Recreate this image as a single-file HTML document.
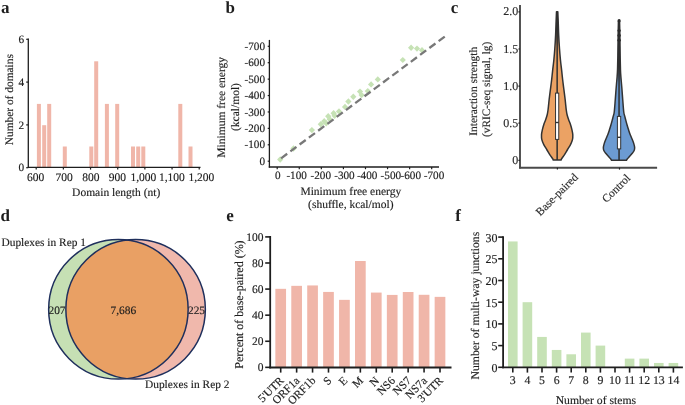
<!DOCTYPE html>
<html><head><meta charset="utf-8"><style>
html,body{margin:0;padding:0;background:#fff;}
svg{display:block;will-change:transform;text-rendering:geometricPrecision;font-family:"Liberation Serif",serif;}
</style></head><body>
<svg width="685" height="405" viewBox="0 0 685 405" style='font-family:"Liberation Serif",serif'>
<rect width="685" height="405" fill="#fff"/>
<text x="0.90" y="12.80" font-size="17" text-anchor="start" fill="#1e1e1e" font-weight="bold">a</text>
<rect x="36.90" y="103.90" width="4.00" height="63.90" fill="#F0B6A9"/>
<rect x="42.20" y="125.20" width="4.00" height="42.60" fill="#F0B6A9"/>
<rect x="47.20" y="103.90" width="4.00" height="63.90" fill="#F0B6A9"/>
<rect x="62.80" y="146.50" width="4.00" height="21.30" fill="#F0B6A9"/>
<rect x="89.30" y="146.50" width="4.00" height="21.30" fill="#F0B6A9"/>
<rect x="94.20" y="61.30" width="4.00" height="106.50" fill="#F0B6A9"/>
<rect x="104.90" y="103.90" width="4.00" height="63.90" fill="#F0B6A9"/>
<rect x="115.20" y="103.90" width="4.00" height="63.90" fill="#F0B6A9"/>
<rect x="131.00" y="146.50" width="4.00" height="21.30" fill="#F0B6A9"/>
<rect x="136.20" y="146.50" width="4.00" height="21.30" fill="#F0B6A9"/>
<rect x="141.30" y="146.50" width="4.00" height="21.30" fill="#F0B6A9"/>
<rect x="178.30" y="103.90" width="4.00" height="63.90" fill="#F0B6A9"/>
<rect x="188.50" y="146.50" width="4.00" height="21.30" fill="#F0B6A9"/>
<line x1="28.30" y1="38.60" x2="28.30" y2="167.90" stroke="#1e1e1e" stroke-width="1.3"/>
<line x1="27.70" y1="167.30" x2="200.50" y2="167.30" stroke="#1e1e1e" stroke-width="1.3"/>
<line x1="26.20" y1="167.70" x2="28.30" y2="167.70" stroke="#1e1e1e" stroke-width="1.2"/>
<text x="24.20" y="171.30" font-size="11.3" text-anchor="end" fill="#1e1e1e" stroke="#1e1e1e" stroke-width="0.15">0</text>
<line x1="26.20" y1="124.90" x2="28.30" y2="124.90" stroke="#1e1e1e" stroke-width="1.2"/>
<text x="24.20" y="128.50" font-size="11.3" text-anchor="end" fill="#1e1e1e" stroke="#1e1e1e" stroke-width="0.15">2</text>
<line x1="26.20" y1="82.10" x2="28.30" y2="82.10" stroke="#1e1e1e" stroke-width="1.2"/>
<text x="24.20" y="85.70" font-size="11.3" text-anchor="end" fill="#1e1e1e" stroke="#1e1e1e" stroke-width="0.15">4</text>
<line x1="26.20" y1="39.30" x2="28.30" y2="39.30" stroke="#1e1e1e" stroke-width="1.2"/>
<text x="24.20" y="42.90" font-size="11.3" text-anchor="end" fill="#1e1e1e" stroke="#1e1e1e" stroke-width="0.15">6</text>
<line x1="36.20" y1="167.30" x2="36.20" y2="169.60" stroke="#1e1e1e" stroke-width="1.2"/>
<text x="35.55" y="181.00" font-size="11.5" text-anchor="middle" fill="#1e1e1e" stroke="#1e1e1e" stroke-width="0.15">600</text>
<line x1="63.37" y1="167.30" x2="63.37" y2="169.60" stroke="#1e1e1e" stroke-width="1.2"/>
<text x="64.20" y="181.00" font-size="11.5" text-anchor="middle" fill="#1e1e1e" stroke="#1e1e1e" stroke-width="0.15">700</text>
<line x1="90.54" y1="167.30" x2="90.54" y2="169.60" stroke="#1e1e1e" stroke-width="1.2"/>
<text x="90.90" y="181.00" font-size="11.5" text-anchor="middle" fill="#1e1e1e" stroke="#1e1e1e" stroke-width="0.15">800</text>
<line x1="117.71" y1="167.30" x2="117.71" y2="169.60" stroke="#1e1e1e" stroke-width="1.2"/>
<text x="117.25" y="181.00" font-size="11.5" text-anchor="middle" fill="#1e1e1e" stroke="#1e1e1e" stroke-width="0.15">900</text>
<line x1="144.88" y1="167.30" x2="144.88" y2="169.60" stroke="#1e1e1e" stroke-width="1.2"/>
<text x="143.35" y="181.00" font-size="11.5" text-anchor="middle" fill="#1e1e1e" stroke="#1e1e1e" stroke-width="0.15">1,000</text>
<line x1="172.05" y1="167.30" x2="172.05" y2="169.60" stroke="#1e1e1e" stroke-width="1.2"/>
<text x="171.90" y="181.00" font-size="11.5" text-anchor="middle" fill="#1e1e1e" stroke="#1e1e1e" stroke-width="0.15">1,100</text>
<line x1="199.22" y1="167.30" x2="199.22" y2="169.60" stroke="#1e1e1e" stroke-width="1.2"/>
<text x="201.35" y="181.00" font-size="11.5" text-anchor="middle" fill="#1e1e1e" stroke="#1e1e1e" stroke-width="0.15">1,200</text>
<text x="116.20" y="196.20" font-size="11.5" text-anchor="middle" fill="#1e1e1e" stroke="#1e1e1e" stroke-width="0.15">Domain length (nt)</text>
<text x="12.60" y="99.70" font-size="11.4" text-anchor="middle" fill="#1e1e1e" stroke="#1e1e1e" stroke-width="0.15" transform="rotate(-90 12.6 99.7)">Number of domains</text>
<text x="225.60" y="12.70" font-size="17" text-anchor="start" fill="#1e1e1e" font-weight="bold">b</text>
<line x1="269.40" y1="39.90" x2="269.40" y2="167.60" stroke="#1e1e1e" stroke-width="1.3"/>
<line x1="268.80" y1="167.00" x2="439.00" y2="167.00" stroke="#1e1e1e" stroke-width="1.3"/>
<line x1="267.70" y1="161.20" x2="269.40" y2="161.20" stroke="#1e1e1e" stroke-width="1.2"/>
<text x="265.00" y="164.90" font-size="11.2" text-anchor="end" fill="#1e1e1e" stroke="#1e1e1e" stroke-width="0.15">0</text>
<line x1="267.70" y1="144.79" x2="269.40" y2="144.79" stroke="#1e1e1e" stroke-width="1.2"/>
<text x="265.00" y="148.49" font-size="11.2" text-anchor="end" fill="#1e1e1e" stroke="#1e1e1e" stroke-width="0.15">-100</text>
<line x1="267.70" y1="128.37" x2="269.40" y2="128.37" stroke="#1e1e1e" stroke-width="1.2"/>
<text x="265.00" y="132.07" font-size="11.2" text-anchor="end" fill="#1e1e1e" stroke="#1e1e1e" stroke-width="0.15">-200</text>
<line x1="267.70" y1="111.96" x2="269.40" y2="111.96" stroke="#1e1e1e" stroke-width="1.2"/>
<text x="265.00" y="115.66" font-size="11.2" text-anchor="end" fill="#1e1e1e" stroke="#1e1e1e" stroke-width="0.15">-300</text>
<line x1="267.70" y1="95.54" x2="269.40" y2="95.54" stroke="#1e1e1e" stroke-width="1.2"/>
<text x="265.00" y="99.24" font-size="11.2" text-anchor="end" fill="#1e1e1e" stroke="#1e1e1e" stroke-width="0.15">-400</text>
<line x1="267.70" y1="79.13" x2="269.40" y2="79.13" stroke="#1e1e1e" stroke-width="1.2"/>
<text x="265.00" y="82.83" font-size="11.2" text-anchor="end" fill="#1e1e1e" stroke="#1e1e1e" stroke-width="0.15">-500</text>
<line x1="267.70" y1="62.71" x2="269.40" y2="62.71" stroke="#1e1e1e" stroke-width="1.2"/>
<text x="265.00" y="66.41" font-size="11.2" text-anchor="end" fill="#1e1e1e" stroke="#1e1e1e" stroke-width="0.15">-600</text>
<line x1="267.70" y1="46.30" x2="269.40" y2="46.30" stroke="#1e1e1e" stroke-width="1.2"/>
<text x="265.00" y="50.00" font-size="11.2" text-anchor="end" fill="#1e1e1e" stroke="#1e1e1e" stroke-width="0.15">-700</text>
<line x1="277.20" y1="167.00" x2="277.20" y2="169.20" stroke="#1e1e1e" stroke-width="1.2"/>
<text x="277.70" y="178.80" font-size="11.2" text-anchor="middle" fill="#1e1e1e" stroke="#1e1e1e" stroke-width="0.15">0</text>
<line x1="299.27" y1="167.00" x2="299.27" y2="169.20" stroke="#1e1e1e" stroke-width="1.2"/>
<text x="286.40" y="178.80" font-size="11.2" text-anchor="start" fill="#1e1e1e" stroke="#1e1e1e" stroke-width="0.15">-100</text>
<line x1="321.34" y1="167.00" x2="321.34" y2="169.20" stroke="#1e1e1e" stroke-width="1.2"/>
<text x="310.50" y="178.80" font-size="11.2" text-anchor="start" fill="#1e1e1e" stroke="#1e1e1e" stroke-width="0.15">-200</text>
<line x1="343.41" y1="167.00" x2="343.41" y2="169.20" stroke="#1e1e1e" stroke-width="1.2"/>
<text x="334.20" y="178.80" font-size="11.2" text-anchor="start" fill="#1e1e1e" stroke="#1e1e1e" stroke-width="0.15">-300</text>
<line x1="365.48" y1="167.00" x2="365.48" y2="169.20" stroke="#1e1e1e" stroke-width="1.2"/>
<text x="356.90" y="178.80" font-size="11.2" text-anchor="start" fill="#1e1e1e" stroke="#1e1e1e" stroke-width="0.15">-400</text>
<line x1="387.55" y1="167.00" x2="387.55" y2="169.20" stroke="#1e1e1e" stroke-width="1.2"/>
<text x="380.60" y="178.80" font-size="11.2" text-anchor="start" fill="#1e1e1e" stroke="#1e1e1e" stroke-width="0.15">-500</text>
<line x1="409.62" y1="167.00" x2="409.62" y2="169.20" stroke="#1e1e1e" stroke-width="1.2"/>
<text x="400.50" y="178.80" font-size="11.2" text-anchor="start" fill="#1e1e1e" stroke="#1e1e1e" stroke-width="0.15">-600</text>
<line x1="431.69" y1="167.00" x2="431.69" y2="169.20" stroke="#1e1e1e" stroke-width="1.2"/>
<text x="423.80" y="178.80" font-size="11.2" text-anchor="start" fill="#1e1e1e" stroke="#1e1e1e" stroke-width="0.15">-700</text>
<path d="M280.2 156.3L283.3 159.5L280.2 162.7L277.1 159.5Z" fill="#C6E2B5"/>
<path d="M293.5 145.3L296.6 148.5L293.5 151.7L290.4 148.5Z" fill="#C6E2B5"/>
<path d="M311.9 126.9L315.0 130.1L311.9 133.2L308.8 130.1Z" fill="#C6E2B5"/>
<path d="M320.8 121.0L323.9 124.2L320.8 127.4L317.7 124.2Z" fill="#C6E2B5"/>
<path d="M324.2 118.0L327.3 121.2L324.2 124.4L321.1 121.2Z" fill="#C6E2B5"/>
<path d="M326.2 120.0L329.3 123.2L326.2 126.4L323.1 123.2Z" fill="#C6E2B5"/>
<path d="M328.2 113.1L331.3 116.3L328.2 119.5L325.1 116.3Z" fill="#C6E2B5"/>
<path d="M329.7 116.0L332.8 119.2L329.7 122.4L326.6 119.2Z" fill="#C6E2B5"/>
<path d="M333.6 110.1L336.8 113.3L333.6 116.5L330.5 113.3Z" fill="#C6E2B5"/>
<path d="M334.6 112.6L337.8 115.8L334.6 119.0L331.5 115.8Z" fill="#C6E2B5"/>
<path d="M339.0 108.2L342.1 111.4L339.0 114.6L335.9 111.4Z" fill="#C6E2B5"/>
<path d="M345.0 103.8L348.1 106.9L345.0 110.1L341.9 106.9Z" fill="#C6E2B5"/>
<path d="M348.4 98.3L351.5 101.5L348.4 104.7L345.2 101.5Z" fill="#C6E2B5"/>
<path d="M353.3 93.5L356.4 96.7L353.3 99.9L350.2 96.7Z" fill="#C6E2B5"/>
<path d="M360.0 88.4L363.1 91.6L360.0 94.8L356.9 91.6Z" fill="#C6E2B5"/>
<path d="M361.6 91.9L364.8 95.1L361.6 98.2L358.5 95.1Z" fill="#C6E2B5"/>
<path d="M367.8 87.9L370.9 91.1L367.8 94.2L364.7 91.1Z" fill="#C6E2B5"/>
<path d="M371.1 81.2L374.2 84.4L371.1 87.6L368.0 84.4Z" fill="#C6E2B5"/>
<path d="M377.8 76.2L380.9 79.4L377.8 82.6L374.7 79.4Z" fill="#C6E2B5"/>
<path d="M402.8 56.9L405.9 60.0L402.8 63.1L399.7 60.0Z" fill="#C6E2B5"/>
<path d="M411.1 44.6L414.2 47.8L411.1 50.9L408.0 47.8Z" fill="#C6E2B5"/>
<path d="M417.0 45.5L420.1 48.6L417.0 51.8L413.9 48.6Z" fill="#C6E2B5"/>
<path d="M422.0 47.1L425.1 50.3L422.0 53.4L418.9 50.3Z" fill="#C6E2B5"/>
<line x1="281.09" y1="158.31" x2="445.06" y2="36.35" stroke="#787878" stroke-width="2.3" stroke-dasharray="7.6 3.95"/>
<text x="350.80" y="194.80" font-size="11.5" text-anchor="middle" fill="#1e1e1e" stroke="#1e1e1e" stroke-width="0.15">Minimum free energy</text>
<text x="350.80" y="207.60" font-size="11.5" text-anchor="middle" fill="#1e1e1e" stroke="#1e1e1e" stroke-width="0.15">(shuffle, kcal/mol)</text>
<text x="225.30" y="107.30" font-size="11.5" text-anchor="middle" fill="#1e1e1e" stroke="#1e1e1e" stroke-width="0.15" transform="rotate(-90 225.3 107.3)">Minimum free energy</text>
<text x="238.70" y="107.00" font-size="11.5" text-anchor="middle" fill="#1e1e1e" stroke="#1e1e1e" stroke-width="0.15" transform="rotate(-90 238.7 107.0)">(kcal/mol)</text>
<text x="450.80" y="12.60" font-size="17" text-anchor="start" fill="#1e1e1e" font-weight="bold">c</text>
<line x1="520.00" y1="4.90" x2="520.00" y2="168.60" stroke="#4a4a4a" stroke-width="1.9"/>
<line x1="519.10" y1="167.70" x2="657.10" y2="167.70" stroke="#4a4a4a" stroke-width="1.9"/>
<line x1="518.40" y1="160.30" x2="520.00" y2="160.30" stroke="#222" stroke-width="1.2"/>
<text x="518.20" y="163.85" font-size="12" text-anchor="end" fill="#2a2a2a" stroke="#2a2a2a" stroke-width="0.15">0</text>
<line x1="518.40" y1="123.20" x2="520.00" y2="123.20" stroke="#222" stroke-width="1.2"/>
<text x="518.20" y="126.75" font-size="12" text-anchor="end" fill="#2a2a2a" stroke="#2a2a2a" stroke-width="0.15">0.5</text>
<line x1="518.40" y1="86.10" x2="520.00" y2="86.10" stroke="#222" stroke-width="1.2"/>
<text x="518.20" y="89.65" font-size="12" text-anchor="end" fill="#2a2a2a" stroke="#2a2a2a" stroke-width="0.15">1.0</text>
<line x1="518.40" y1="49.00" x2="520.00" y2="49.00" stroke="#222" stroke-width="1.2"/>
<text x="518.20" y="52.55" font-size="12" text-anchor="end" fill="#2a2a2a" stroke="#2a2a2a" stroke-width="0.15">1.5</text>
<line x1="518.40" y1="11.90" x2="520.00" y2="11.90" stroke="#222" stroke-width="1.2"/>
<text x="518.20" y="15.45" font-size="12" text-anchor="end" fill="#2a2a2a" stroke="#2a2a2a" stroke-width="0.15">2.0</text>
<line x1="557.40" y1="167.70" x2="557.40" y2="169.60" stroke="#222" stroke-width="1.2"/>
<line x1="619.50" y1="167.70" x2="619.50" y2="169.60" stroke="#222" stroke-width="1.2"/>
<path d="M557.80,11.80 C557.87,13.43 558.05,17.70 558.20,21.60 C558.35,25.50 558.48,30.67 558.70,35.20 C558.92,39.73 559.21,44.67 559.50,48.80 C559.79,52.93 560.10,56.48 560.45,60.00 C560.80,63.52 561.23,66.61 561.60,69.90 C561.97,73.19 562.27,76.47 562.65,79.75 C563.03,83.03 563.48,86.31 563.90,89.60 C564.32,92.89 564.85,96.95 565.15,99.50 C565.45,102.05 565.52,103.17 565.70,104.90 C565.88,106.63 566.02,108.25 566.25,109.90 C566.48,111.55 566.70,113.16 567.10,114.80 C567.50,116.44 568.08,118.10 568.65,119.75 C569.22,121.40 570.01,123.06 570.55,124.70 C571.09,126.34 571.52,127.90 571.90,129.60 C572.27,131.30 572.72,133.18 572.80,134.90 C572.88,136.62 572.80,138.25 572.40,139.90 C572.00,141.55 571.23,143.16 570.40,144.80 C569.57,146.44 568.42,148.10 567.45,149.75 C566.47,151.40 565.50,153.24 564.55,154.70 C563.60,156.16 562.33,157.60 561.75,158.50 C561.17,159.40 561.17,159.83 561.05,160.10 L553.25,160.10 C553.13,159.83 553.13,159.40 552.55,158.50 C551.97,157.60 550.70,156.16 549.75,154.70 C548.80,153.24 547.83,151.40 546.85,149.75 C545.88,148.10 544.73,146.44 543.90,144.80 C543.07,143.16 542.30,141.55 541.90,139.90 C541.50,138.25 541.42,136.62 541.50,134.90 C541.58,133.18 542.02,131.30 542.40,129.60 C542.77,127.90 543.21,126.34 543.75,124.70 C544.29,123.06 545.08,121.40 545.65,119.75 C546.22,118.10 546.80,116.44 547.20,114.80 C547.60,113.16 547.82,111.55 548.05,109.90 C548.28,108.25 548.42,106.63 548.60,104.90 C548.78,103.17 548.85,102.05 549.15,99.50 C549.45,96.95 549.98,92.89 550.40,89.60 C550.82,86.31 551.27,83.03 551.65,79.75 C552.03,76.47 552.33,73.19 552.70,69.90 C553.07,66.61 553.50,63.52 553.85,60.00 C554.20,56.48 554.51,52.93 554.80,48.80 C555.09,44.67 555.38,39.73 555.60,35.20 C555.82,30.67 555.95,25.50 556.10,21.60 C556.25,17.70 556.43,13.43 556.50,11.80 Z" fill="#EBA264" stroke="#333" stroke-width="1.5" stroke-linejoin="round"/>
<linearGradient id="go" gradientUnits="userSpaceOnUse" x1="0" y1="30" x2="0" y2="46"><stop offset="0" stop-color="#333" stop-opacity="1"/><stop offset="1" stop-color="#333" stop-opacity="0"/></linearGradient>
<path d="M557.80,11.80 C557.87,13.43 558.05,17.70 558.20,21.60 C558.35,25.50 558.48,30.67 558.70,35.20 C558.92,39.73 559.21,44.67 559.50,48.80 C559.79,52.93 560.10,56.48 560.45,60.00 C560.80,63.52 561.23,66.61 561.60,69.90 C561.97,73.19 562.27,76.47 562.65,79.75 C563.03,83.03 563.48,86.31 563.90,89.60 C564.32,92.89 564.85,96.95 565.15,99.50 C565.45,102.05 565.52,103.17 565.70,104.90 C565.88,106.63 566.02,108.25 566.25,109.90 C566.48,111.55 566.70,113.16 567.10,114.80 C567.50,116.44 568.08,118.10 568.65,119.75 C569.22,121.40 570.01,123.06 570.55,124.70 C571.09,126.34 571.52,127.90 571.90,129.60 C572.27,131.30 572.72,133.18 572.80,134.90 C572.88,136.62 572.80,138.25 572.40,139.90 C572.00,141.55 571.23,143.16 570.40,144.80 C569.57,146.44 568.42,148.10 567.45,149.75 C566.47,151.40 565.50,153.24 564.55,154.70 C563.60,156.16 562.33,157.60 561.75,158.50 C561.17,159.40 561.17,159.83 561.05,160.10 L553.25,160.10 C553.13,159.83 553.13,159.40 552.55,158.50 C551.97,157.60 550.70,156.16 549.75,154.70 C548.80,153.24 547.83,151.40 546.85,149.75 C545.88,148.10 544.73,146.44 543.90,144.80 C543.07,143.16 542.30,141.55 541.90,139.90 C541.50,138.25 541.42,136.62 541.50,134.90 C541.58,133.18 542.02,131.30 542.40,129.60 C542.77,127.90 543.21,126.34 543.75,124.70 C544.29,123.06 545.08,121.40 545.65,119.75 C546.22,118.10 546.80,116.44 547.20,114.80 C547.60,113.16 547.82,111.55 548.05,109.90 C548.28,108.25 548.42,106.63 548.60,104.90 C548.78,103.17 548.85,102.05 549.15,99.50 C549.45,96.95 549.98,92.89 550.40,89.60 C550.82,86.31 551.27,83.03 551.65,79.75 C552.03,76.47 552.33,73.19 552.70,69.90 C553.07,66.61 553.50,63.52 553.85,60.00 C554.20,56.48 554.51,52.93 554.80,48.80 C555.09,44.67 555.38,39.73 555.60,35.20 C555.82,30.67 555.95,25.50 556.10,21.60 C556.25,17.70 556.43,13.43 556.50,11.80 Z" fill="url(#go)"/>
<path d="M619.60,21.50 C619.61,22.08 619.59,21.92 619.65,25.00 C619.71,28.08 619.87,34.87 619.95,40.00 C620.03,45.13 620.07,50.90 620.15,55.80 C620.23,60.70 620.33,65.87 620.45,69.40 C620.58,72.93 620.65,73.68 620.90,77.00 C621.15,80.32 621.64,85.47 621.95,89.30 C622.26,93.13 622.45,96.22 622.75,100.00 C623.05,103.78 623.41,109.27 623.75,112.00 C624.09,114.73 624.43,114.92 624.80,116.40 C625.17,117.88 625.56,119.42 625.95,120.90 C626.34,122.38 626.72,123.82 627.15,125.30 C627.58,126.78 628.07,128.32 628.55,129.80 C629.03,131.28 629.48,132.72 630.05,134.20 C630.62,135.68 631.35,137.22 631.95,138.70 C632.55,140.18 633.20,141.62 633.65,143.10 C634.10,144.58 634.58,146.32 634.65,147.60 C634.72,148.88 634.52,149.77 634.05,150.80 C633.58,151.83 632.65,152.82 631.85,153.80 C631.05,154.78 630.02,155.83 629.25,156.70 C628.48,157.57 627.73,158.40 627.25,159.00 C626.77,159.60 626.54,160.08 626.40,160.30 L611.60,160.30 C611.46,160.08 611.23,159.60 610.75,159.00 C610.27,158.40 609.52,157.57 608.75,156.70 C607.98,155.83 606.95,154.78 606.15,153.80 C605.35,152.82 604.42,151.83 603.95,150.80 C603.48,149.77 603.28,148.88 603.35,147.60 C603.42,146.32 603.90,144.58 604.35,143.10 C604.80,141.62 605.45,140.18 606.05,138.70 C606.65,137.22 607.38,135.68 607.95,134.20 C608.52,132.72 608.97,131.28 609.45,129.80 C609.93,128.32 610.42,126.78 610.85,125.30 C611.28,123.82 611.66,122.38 612.05,120.90 C612.44,119.42 612.83,117.88 613.20,116.40 C613.57,114.92 613.91,114.73 614.25,112.00 C614.59,109.27 614.95,103.78 615.25,100.00 C615.55,96.22 615.74,93.13 616.05,89.30 C616.36,85.47 616.85,80.32 617.10,77.00 C617.35,73.68 617.42,72.93 617.55,69.40 C617.67,65.87 617.77,60.70 617.85,55.80 C617.93,50.90 617.97,45.13 618.05,40.00 C618.13,34.87 618.29,28.08 618.35,25.00 C618.41,21.92 618.39,22.08 618.40,21.50 Z" fill="#6C9BD2" stroke="#333" stroke-width="1.5" stroke-linejoin="round"/>
<linearGradient id="gb" gradientUnits="userSpaceOnUse" x1="0" y1="66" x2="0" y2="82"><stop offset="0" stop-color="#333" stop-opacity="1"/><stop offset="1" stop-color="#333" stop-opacity="0"/></linearGradient>
<path d="M619.60,21.50 C619.61,22.08 619.59,21.92 619.65,25.00 C619.71,28.08 619.87,34.87 619.95,40.00 C620.03,45.13 620.07,50.90 620.15,55.80 C620.23,60.70 620.33,65.87 620.45,69.40 C620.58,72.93 620.65,73.68 620.90,77.00 C621.15,80.32 621.64,85.47 621.95,89.30 C622.26,93.13 622.45,96.22 622.75,100.00 C623.05,103.78 623.41,109.27 623.75,112.00 C624.09,114.73 624.43,114.92 624.80,116.40 C625.17,117.88 625.56,119.42 625.95,120.90 C626.34,122.38 626.72,123.82 627.15,125.30 C627.58,126.78 628.07,128.32 628.55,129.80 C629.03,131.28 629.48,132.72 630.05,134.20 C630.62,135.68 631.35,137.22 631.95,138.70 C632.55,140.18 633.20,141.62 633.65,143.10 C634.10,144.58 634.58,146.32 634.65,147.60 C634.72,148.88 634.52,149.77 634.05,150.80 C633.58,151.83 632.65,152.82 631.85,153.80 C631.05,154.78 630.02,155.83 629.25,156.70 C628.48,157.57 627.73,158.40 627.25,159.00 C626.77,159.60 626.54,160.08 626.40,160.30 L611.60,160.30 C611.46,160.08 611.23,159.60 610.75,159.00 C610.27,158.40 609.52,157.57 608.75,156.70 C607.98,155.83 606.95,154.78 606.15,153.80 C605.35,152.82 604.42,151.83 603.95,150.80 C603.48,149.77 603.28,148.88 603.35,147.60 C603.42,146.32 603.90,144.58 604.35,143.10 C604.80,141.62 605.45,140.18 606.05,138.70 C606.65,137.22 607.38,135.68 607.95,134.20 C608.52,132.72 608.97,131.28 609.45,129.80 C609.93,128.32 610.42,126.78 610.85,125.30 C611.28,123.82 611.66,122.38 612.05,120.90 C612.44,119.42 612.83,117.88 613.20,116.40 C613.57,114.92 613.91,114.73 614.25,112.00 C614.59,109.27 614.95,103.78 615.25,100.00 C615.55,96.22 615.74,93.13 616.05,89.30 C616.36,85.47 616.85,80.32 617.10,77.00 C617.35,73.68 617.42,72.93 617.55,69.40 C617.67,65.87 617.77,60.70 617.85,55.80 C617.93,50.90 617.97,45.13 618.05,40.00 C618.13,34.87 618.29,28.08 618.35,25.00 C618.41,21.92 618.39,22.08 618.40,21.50 Z" fill="url(#gb)"/>
<circle cx="619.1" cy="20.7" r="1.6" fill="#222"/>
<circle cx="619.1" cy="30.6" r="1.6" fill="#222"/>
<circle cx="619.1" cy="35.4" r="1.6" fill="#222"/>
<circle cx="619.1" cy="40.2" r="1.6" fill="#222"/>
<line x1="557.15" y1="12.00" x2="557.15" y2="160.00" stroke="#2e2e2e" stroke-width="1.5"/>
<rect x="555.55" y="93.10" width="3.20" height="46.30" fill="#fff" stroke="#333" stroke-width="1.0"/>
<line x1="555.55" y1="122.50" x2="558.75" y2="122.50" stroke="#333" stroke-width="1.4"/>
<line x1="619.05" y1="20.00" x2="619.05" y2="160.00" stroke="#2e2e2e" stroke-width="1.5"/>
<rect x="617.40" y="116.40" width="3.30" height="32.50" fill="#fff" stroke="#333" stroke-width="1.0"/>
<line x1="617.40" y1="137.30" x2="620.70" y2="137.30" stroke="#333" stroke-width="1.4"/>
<text x="559.50" y="197.20" font-size="11.4" text-anchor="middle" fill="#2a2a2a" stroke="#2a2a2a" stroke-width="0.15" transform="rotate(-45 559.5 197.2)">Base-paired</text>
<text x="618.80" y="191.00" font-size="11.4" text-anchor="middle" fill="#2a2a2a" stroke="#2a2a2a" stroke-width="0.15" transform="rotate(-45 618.8 191.0)">Control</text>
<text x="476.80" y="91.25" font-size="11.4" text-anchor="middle" fill="#2a2a2a" stroke="#2a2a2a" stroke-width="0.15" transform="rotate(-90 476.8 91.25)">Interaction strength</text>
<text x="490.40" y="89.35" font-size="11.3" text-anchor="middle" fill="#2a2a2a" stroke="#2a2a2a" stroke-width="0.15" transform="rotate(-90 490.4 89.35)">(vRIC-seq signal, lg)</text>
<text x="0.60" y="220.70" font-size="17" text-anchor="start" fill="#1e1e1e" font-weight="bold">d</text>
<circle cx="118.4" cy="309.35" r="69.75" fill="#C6E0B4"/>
<circle cx="135.6" cy="309.35" r="69.75" fill="#F0B8AC"/>
<clipPath id="cg"><circle cx="118.4" cy="309.35" r="69.75"/></clipPath>
<circle cx="135.6" cy="309.35" r="69.75" fill="#E9A064" clip-path="url(#cg)"/>
<circle cx="118.4" cy="309.35" r="69.75" fill="none" stroke="#1f2f5c" stroke-width="1.5"/>
<circle cx="135.6" cy="309.35" r="69.75" fill="none" stroke="#1f2f5c" stroke-width="1.5"/>
<text x="1.50" y="245.90" font-size="11.4" text-anchor="start" fill="#1e1e1e" stroke="#1e1e1e" stroke-width="0.15">Duplexes in Rep 1</text>
<text x="145.00" y="388.00" font-size="11.4" text-anchor="start" fill="#1e1e1e" stroke="#1e1e1e" stroke-width="0.15">Duplexes in Rep 2</text>
<text x="57.00" y="313.70" font-size="11.4" text-anchor="middle" fill="#1e1e1e" stroke="#1e1e1e" stroke-width="0.15">207</text>
<text x="123.40" y="313.70" font-size="11.4" text-anchor="middle" fill="#1e1e1e" stroke="#1e1e1e" stroke-width="0.15">7,686</text>
<text x="196.50" y="313.70" font-size="11.4" text-anchor="middle" fill="#1e1e1e" stroke="#1e1e1e" stroke-width="0.15">225</text>
<text x="226.30" y="220.90" font-size="17" text-anchor="start" fill="#1e1e1e" font-weight="bold">e</text>
<rect x="275.35" y="288.82" width="10.70" height="78.68" fill="#F0B6A9"/>
<rect x="291.28" y="285.84" width="10.70" height="81.66" fill="#F0B6A9"/>
<rect x="307.21" y="285.45" width="10.70" height="82.05" fill="#F0B6A9"/>
<rect x="323.14" y="291.93" width="10.70" height="75.57" fill="#F0B6A9"/>
<rect x="339.07" y="299.85" width="10.70" height="67.65" fill="#F0B6A9"/>
<rect x="355.00" y="261.00" width="10.70" height="106.50" fill="#F0B6A9"/>
<rect x="370.93" y="292.58" width="10.70" height="74.92" fill="#F0B6A9"/>
<rect x="386.86" y="294.92" width="10.70" height="72.58" fill="#F0B6A9"/>
<rect x="402.79" y="292.00" width="10.70" height="75.50" fill="#F0B6A9"/>
<rect x="418.72" y="294.79" width="10.70" height="72.71" fill="#F0B6A9"/>
<rect x="434.65" y="296.86" width="10.70" height="70.64" fill="#F0B6A9"/>
<line x1="270.20" y1="236.00" x2="270.20" y2="368.40" stroke="#1e1e1e" stroke-width="1.8"/>
<line x1="269.30" y1="367.50" x2="451.50" y2="367.50" stroke="#1e1e1e" stroke-width="1.8"/>
<line x1="265.20" y1="367.35" x2="270.20" y2="367.35" stroke="#1e1e1e" stroke-width="1.6"/>
<text x="263.40" y="371.25" font-size="11.5" text-anchor="end" fill="#1e1e1e" stroke="#1e1e1e" stroke-width="0.15">0</text>
<line x1="265.20" y1="341.26" x2="270.20" y2="341.26" stroke="#1e1e1e" stroke-width="1.6"/>
<text x="263.40" y="345.16" font-size="11.5" text-anchor="end" fill="#1e1e1e" stroke="#1e1e1e" stroke-width="0.15">20</text>
<line x1="265.20" y1="315.17" x2="270.20" y2="315.17" stroke="#1e1e1e" stroke-width="1.6"/>
<text x="263.40" y="319.07" font-size="11.5" text-anchor="end" fill="#1e1e1e" stroke="#1e1e1e" stroke-width="0.15">40</text>
<line x1="265.20" y1="289.08" x2="270.20" y2="289.08" stroke="#1e1e1e" stroke-width="1.6"/>
<text x="263.40" y="292.98" font-size="11.5" text-anchor="end" fill="#1e1e1e" stroke="#1e1e1e" stroke-width="0.15">60</text>
<line x1="265.20" y1="262.99" x2="270.20" y2="262.99" stroke="#1e1e1e" stroke-width="1.6"/>
<text x="263.40" y="266.89" font-size="11.5" text-anchor="end" fill="#1e1e1e" stroke="#1e1e1e" stroke-width="0.15">80</text>
<line x1="265.20" y1="236.90" x2="270.20" y2="236.90" stroke="#1e1e1e" stroke-width="1.6"/>
<text x="263.40" y="240.80" font-size="11.5" text-anchor="end" fill="#1e1e1e" stroke="#1e1e1e" stroke-width="0.15">100</text>
<line x1="280.70" y1="367.50" x2="280.70" y2="372.60" stroke="#1e1e1e" stroke-width="1.6"/>
<text x="284.40" y="381.30" font-size="11.5" text-anchor="end" fill="#1e1e1e" stroke="#1e1e1e" stroke-width="0.15" transform="rotate(-45 284.4 381.3)">5'UTR</text>
<line x1="296.63" y1="367.50" x2="296.63" y2="372.60" stroke="#1e1e1e" stroke-width="1.6"/>
<text x="300.33" y="381.30" font-size="11.5" text-anchor="end" fill="#1e1e1e" stroke="#1e1e1e" stroke-width="0.15" transform="rotate(-45 300.33 381.3)">ORF1a</text>
<line x1="312.56" y1="367.50" x2="312.56" y2="372.60" stroke="#1e1e1e" stroke-width="1.6"/>
<text x="316.26" y="381.30" font-size="11.5" text-anchor="end" fill="#1e1e1e" stroke="#1e1e1e" stroke-width="0.15" transform="rotate(-45 316.26 381.3)">ORF1b</text>
<line x1="328.49" y1="367.50" x2="328.49" y2="372.60" stroke="#1e1e1e" stroke-width="1.6"/>
<text x="332.19" y="381.30" font-size="11.5" text-anchor="end" fill="#1e1e1e" stroke="#1e1e1e" stroke-width="0.15" transform="rotate(-45 332.19 381.3)">S</text>
<line x1="344.42" y1="367.50" x2="344.42" y2="372.60" stroke="#1e1e1e" stroke-width="1.6"/>
<text x="348.12" y="381.30" font-size="11.5" text-anchor="end" fill="#1e1e1e" stroke="#1e1e1e" stroke-width="0.15" transform="rotate(-45 348.11999999999995 381.3)">E</text>
<line x1="360.35" y1="367.50" x2="360.35" y2="372.60" stroke="#1e1e1e" stroke-width="1.6"/>
<text x="364.05" y="381.30" font-size="11.5" text-anchor="end" fill="#1e1e1e" stroke="#1e1e1e" stroke-width="0.15" transform="rotate(-45 364.05 381.3)">M</text>
<line x1="376.28" y1="367.50" x2="376.28" y2="372.60" stroke="#1e1e1e" stroke-width="1.6"/>
<text x="379.98" y="381.30" font-size="11.5" text-anchor="end" fill="#1e1e1e" stroke="#1e1e1e" stroke-width="0.15" transform="rotate(-45 379.97999999999996 381.3)">N</text>
<line x1="392.21" y1="367.50" x2="392.21" y2="372.60" stroke="#1e1e1e" stroke-width="1.6"/>
<text x="395.91" y="381.30" font-size="11.5" text-anchor="end" fill="#1e1e1e" stroke="#1e1e1e" stroke-width="0.15" transform="rotate(-45 395.90999999999997 381.3)">NS6</text>
<line x1="408.14" y1="367.50" x2="408.14" y2="372.60" stroke="#1e1e1e" stroke-width="1.6"/>
<text x="411.84" y="381.30" font-size="11.5" text-anchor="end" fill="#1e1e1e" stroke="#1e1e1e" stroke-width="0.15" transform="rotate(-45 411.84 381.3)">NS7</text>
<line x1="424.07" y1="367.50" x2="424.07" y2="372.60" stroke="#1e1e1e" stroke-width="1.6"/>
<text x="427.77" y="381.30" font-size="11.5" text-anchor="end" fill="#1e1e1e" stroke="#1e1e1e" stroke-width="0.15" transform="rotate(-45 427.77 381.3)">NS7a</text>
<line x1="440.00" y1="367.50" x2="440.00" y2="372.60" stroke="#1e1e1e" stroke-width="1.6"/>
<text x="443.70" y="381.30" font-size="11.5" text-anchor="end" fill="#1e1e1e" stroke="#1e1e1e" stroke-width="0.15" transform="rotate(-45 443.7 381.3)">3'UTR</text>
<text x="243.40" y="304.50" font-size="12" text-anchor="middle" fill="#1e1e1e" stroke="#1e1e1e" stroke-width="0.15" transform="rotate(-90 243.4 304.5)">Percent of base-paired (%)</text>
<text x="455.20" y="221.00" font-size="17" text-anchor="start" fill="#1e1e1e" font-weight="bold">f</text>
<rect x="508.00" y="241.44" width="9.60" height="125.86" fill="#C6E2B5"/>
<rect x="522.60" y="302.20" width="9.60" height="65.10" fill="#C6E2B5"/>
<rect x="537.20" y="336.92" width="9.60" height="30.38" fill="#C6E2B5"/>
<rect x="551.80" y="349.94" width="9.60" height="17.36" fill="#C6E2B5"/>
<rect x="566.40" y="354.28" width="9.60" height="13.02" fill="#C6E2B5"/>
<rect x="581.00" y="332.58" width="9.60" height="34.72" fill="#C6E2B5"/>
<rect x="595.60" y="345.60" width="9.60" height="21.70" fill="#C6E2B5"/>
<rect x="624.80" y="358.62" width="9.60" height="8.68" fill="#C6E2B5"/>
<rect x="639.40" y="358.62" width="9.60" height="8.68" fill="#C6E2B5"/>
<rect x="654.00" y="362.96" width="9.60" height="4.34" fill="#C6E2B5"/>
<rect x="668.60" y="362.96" width="9.60" height="4.34" fill="#C6E2B5"/>
<line x1="503.10" y1="236.20" x2="503.10" y2="368.20" stroke="#1e1e1e" stroke-width="1.8"/>
<line x1="502.20" y1="367.30" x2="682.90" y2="367.30" stroke="#1e1e1e" stroke-width="1.8"/>
<line x1="498.20" y1="367.30" x2="503.10" y2="367.30" stroke="#1e1e1e" stroke-width="1.6"/>
<text x="497.40" y="371.80" font-size="12" text-anchor="end" fill="#1e1e1e" stroke="#1e1e1e" stroke-width="0.15">0</text>
<line x1="498.20" y1="345.60" x2="503.10" y2="345.60" stroke="#1e1e1e" stroke-width="1.6"/>
<text x="497.40" y="350.10" font-size="12" text-anchor="end" fill="#1e1e1e" stroke="#1e1e1e" stroke-width="0.15">5</text>
<line x1="498.20" y1="323.90" x2="503.10" y2="323.90" stroke="#1e1e1e" stroke-width="1.6"/>
<text x="497.40" y="328.40" font-size="12" text-anchor="end" fill="#1e1e1e" stroke="#1e1e1e" stroke-width="0.15">10</text>
<line x1="498.20" y1="302.20" x2="503.10" y2="302.20" stroke="#1e1e1e" stroke-width="1.6"/>
<text x="497.40" y="306.70" font-size="12" text-anchor="end" fill="#1e1e1e" stroke="#1e1e1e" stroke-width="0.15">15</text>
<line x1="498.20" y1="280.50" x2="503.10" y2="280.50" stroke="#1e1e1e" stroke-width="1.6"/>
<text x="497.40" y="285.00" font-size="12" text-anchor="end" fill="#1e1e1e" stroke="#1e1e1e" stroke-width="0.15">20</text>
<line x1="498.20" y1="258.80" x2="503.10" y2="258.80" stroke="#1e1e1e" stroke-width="1.6"/>
<text x="497.40" y="263.30" font-size="12" text-anchor="end" fill="#1e1e1e" stroke="#1e1e1e" stroke-width="0.15">25</text>
<line x1="498.20" y1="237.10" x2="503.10" y2="237.10" stroke="#1e1e1e" stroke-width="1.6"/>
<text x="497.40" y="241.60" font-size="12" text-anchor="end" fill="#1e1e1e" stroke="#1e1e1e" stroke-width="0.15">30</text>
<line x1="512.80" y1="367.30" x2="512.80" y2="372.60" stroke="#1e1e1e" stroke-width="1.6"/>
<text x="512.80" y="384.00" font-size="11.8" text-anchor="middle" fill="#1e1e1e" stroke="#1e1e1e" stroke-width="0.15">3</text>
<line x1="527.40" y1="367.30" x2="527.40" y2="372.60" stroke="#1e1e1e" stroke-width="1.6"/>
<text x="527.40" y="384.00" font-size="11.8" text-anchor="middle" fill="#1e1e1e" stroke="#1e1e1e" stroke-width="0.15">4</text>
<line x1="542.00" y1="367.30" x2="542.00" y2="372.60" stroke="#1e1e1e" stroke-width="1.6"/>
<text x="542.00" y="384.00" font-size="11.8" text-anchor="middle" fill="#1e1e1e" stroke="#1e1e1e" stroke-width="0.15">5</text>
<line x1="556.60" y1="367.30" x2="556.60" y2="372.60" stroke="#1e1e1e" stroke-width="1.6"/>
<text x="556.60" y="384.00" font-size="11.8" text-anchor="middle" fill="#1e1e1e" stroke="#1e1e1e" stroke-width="0.15">6</text>
<line x1="571.20" y1="367.30" x2="571.20" y2="372.60" stroke="#1e1e1e" stroke-width="1.6"/>
<text x="571.20" y="384.00" font-size="11.8" text-anchor="middle" fill="#1e1e1e" stroke="#1e1e1e" stroke-width="0.15">7</text>
<line x1="585.80" y1="367.30" x2="585.80" y2="372.60" stroke="#1e1e1e" stroke-width="1.6"/>
<text x="585.80" y="384.00" font-size="11.8" text-anchor="middle" fill="#1e1e1e" stroke="#1e1e1e" stroke-width="0.15">8</text>
<line x1="600.40" y1="367.30" x2="600.40" y2="372.60" stroke="#1e1e1e" stroke-width="1.6"/>
<text x="600.40" y="384.00" font-size="11.8" text-anchor="middle" fill="#1e1e1e" stroke="#1e1e1e" stroke-width="0.15">9</text>
<line x1="615.00" y1="367.30" x2="615.00" y2="372.60" stroke="#1e1e1e" stroke-width="1.6"/>
<text x="615.00" y="384.00" font-size="11.8" text-anchor="middle" fill="#1e1e1e" stroke="#1e1e1e" stroke-width="0.15">10</text>
<line x1="629.60" y1="367.30" x2="629.60" y2="372.60" stroke="#1e1e1e" stroke-width="1.6"/>
<text x="629.60" y="384.00" font-size="11.8" text-anchor="middle" fill="#1e1e1e" stroke="#1e1e1e" stroke-width="0.15">11</text>
<line x1="644.20" y1="367.30" x2="644.20" y2="372.60" stroke="#1e1e1e" stroke-width="1.6"/>
<text x="644.20" y="384.00" font-size="11.8" text-anchor="middle" fill="#1e1e1e" stroke="#1e1e1e" stroke-width="0.15">12</text>
<line x1="658.80" y1="367.30" x2="658.80" y2="372.60" stroke="#1e1e1e" stroke-width="1.6"/>
<text x="658.80" y="384.00" font-size="11.8" text-anchor="middle" fill="#1e1e1e" stroke="#1e1e1e" stroke-width="0.15">13</text>
<line x1="673.40" y1="367.30" x2="673.40" y2="372.60" stroke="#1e1e1e" stroke-width="1.6"/>
<text x="673.40" y="384.00" font-size="11.8" text-anchor="middle" fill="#1e1e1e" stroke="#1e1e1e" stroke-width="0.15">14</text>
<text x="595.90" y="404.00" font-size="11.7" text-anchor="middle" fill="#1e1e1e" stroke="#1e1e1e" stroke-width="0.15">Number of stems</text>
<text x="478.80" y="305.60" font-size="11.7" text-anchor="middle" fill="#1e1e1e" stroke="#1e1e1e" stroke-width="0.15" transform="rotate(-90 478.8 305.6)">Number of multi-way junctions</text>
</svg>
</body></html>
